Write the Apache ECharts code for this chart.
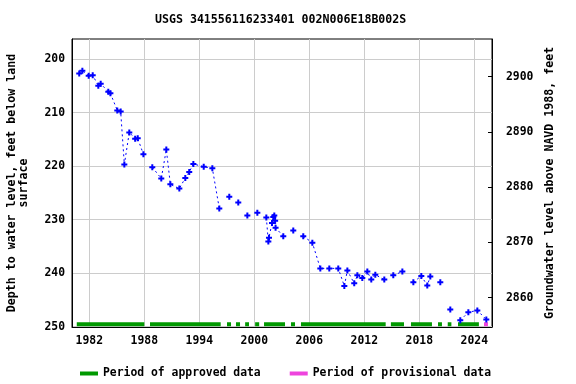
<!DOCTYPE html>
<html><head><meta charset="utf-8">
<script src="https://cdn.jsdelivr.net/npm/echarts@6/dist/echarts.min.js"></script>
<style>html,body{margin:0;padding:0;background:#fff}#c{width:576px;height:384px}</style>
</head><body><div id="c"></div>
<script>
const titleText = 'USGS 341556116233401 002N006E18B002S';
const leftName = 'Depth to water level, feet below land\nsurface';
const rightName = 'Groundwater level above NAVD 1988, feet';
// null entries mark breaks in the dotted line
const years = [1980.90,1981.24,1981.93,1982.37,1982.98,1983.24,1984.07,1984.30,1985.05,1985.42,1985.82,1986.36,1987.00,1987.28,1987.90,null,
  1988.87,1989.85,1990.40,1990.84,1991.82,1992.47,1992.90,1993.35,1994.48,1995.42,1996.18,null,
  1997.27,null,1998.25,null,1999.24,null,2000.33,null,
  2001.31,2001.53,2001.60,2001.93,2002.07,2002.18,2002.27,2002.32,2003.16,null,
  2004.25,null,
  2005.34,2006.33,2007.20,2008.18,2009.16,2009.82,2010.15,2010.90,2011.24,2011.78,2012.33,2012.76,2013.20,2014.18,null,
  2015.16,2016.15,null,
  2017.35,2018.22,2018.87,2019.20,null,
  2020.29,null,2021.38,null,
  2022.47,2023.35,2024.33,2025.31];
const depths = [202.7,202.2,203.1,203.0,205.0,204.6,206.1,206.4,209.6,209.8,219.7,213.7,214.9,214.8,217.8,null,
  220.2,222.3,216.9,223.4,224.2,222.2,221.1,219.6,220.1,220.4,227.9,null,
  225.7,null,226.8,null,229.2,null,228.7,null,
  229.6,234.1,233.4,230.6,229.5,229.2,230.2,231.5,233.1,null,
  232.0,null,
  233.1,234.3,239.1,239.1,239.1,242.4,239.5,241.9,240.4,240.9,239.7,241.2,240.3,241.2,null,
  240.4,239.7,null,
  241.7,240.5,242.3,240.6,null,
  241.7,null,246.8,null,
  248.8,247.3,246.95,248.65];
const xTicks = [1982,1988,1994,2000,2006,2012,2018,2024];
const depthTicks = [200,210,220,230,240,250];
const elevTicks = [2860,2870,2880,2890,2900];
const approvedStart = [1980.63,1988.62,1997.02,1998.00,1999.00,2000.09,2001.06,2004.00,2005.09,2014.90,2017.09,2020.04,2021.10,2022.22];
const approvedEnd   = [1988.00,1996.33,1997.46,1998.44,1999.42,2000.53,2003.35,2004.44,2014.33,2016.33,2019.38,2020.47,2021.50,2024.50];
const provisionalStart = [2025.06];
const provisionalEnd   = [2025.49];

const FONT = 'DejaVu Sans Mono';
const BAR_LEVEL = 249.53;
function periodData(s, e) {
  const out = [];
  for (let i = 0; i < s.length; i++) { out.push([s[i], BAR_LEVEL], [e[i], BAR_LEVEL], [null, null]); }
  return out;
}
const plain = v => String(Math.round(v));
const pts = years.map((y, i) => [y, depths[i]]);
const plusPath = 'path://M2,0H4V6H2ZM0,2H6V4H0Z';
const chart = echarts.init(document.getElementById('c'), null, {renderer: 'canvas'});
chart.setOption({
  animation: false,
  backgroundColor: '#ffffff',
  title: { text: titleText, left: 150, top: 9,
    textStyle: { fontFamily: FONT, fontWeight: 'bold', fontSize: 11.6, color: '#000' } },
  grid: { left: 72, right: 84, top: 39, bottom: 57, containLabel: false, outerBoundsMode: 'none',
    show: true, borderColor: '#000', borderWidth: 1, backgroundColor: 'transparent' },
  legend: { left: 75, top: 363, itemWidth: 18, itemHeight: 4, itemGap: 29, icon: 'rect',
    data: ['Period of approved data', 'Period of provisional data'],
    textStyle: { fontFamily: FONT, fontWeight: 'bold', fontSize: 11.4, color: '#000', padding: [0,0,0,0] } },
  xAxis: { type: 'value', min: 1980.11, max: 2025.93,
    axisLine: { show: true, lineStyle: { color: '#000' } },
    axisTick: { show: false, customValues: xTicks },
    axisLabel: { customValues: xTicks, formatter: plain, margin: 9, color: '#000', fontFamily: FONT, fontWeight: 'bold', fontSize: 11.4 },
    splitLine: { show: true, lineStyle: { color: '#cccccc', width: 1 } } },
  yAxis: [
    { type: 'value', inverse: true, min: 196.25, max: 250.05, position: 'left',
      name: leftName, nameLocation: 'middle', nameGap: 42,
      nameTextStyle: { fontFamily: FONT, fontWeight: 'bold', fontSize: 11.6, color: '#000', lineHeight: 12 },
      axisLine: { show: true, lineStyle: { color: '#000' } },
      axisTick: { show: false, customValues: depthTicks },
      axisLabel: { customValues: depthTicks, formatter: plain, margin: 7, color: '#000', fontFamily: FONT, fontWeight: 'bold', fontSize: 11.4 },
      splitLine: { show: true, lineStyle: { color: '#cccccc', width: 1 } } },
    { type: 'value', min: 2854.70, max: 2906.82, position: 'right',
      name: rightName, nameLocation: 'middle', nameGap: 42,
      nameTextStyle: { fontFamily: FONT, fontWeight: 'bold', fontSize: 11.6, color: '#000' },
      axisLine: { show: true, lineStyle: { color: '#000' } },
      axisTick: { show: true, inside: true, length: 4, customValues: elevTicks, lineStyle: { color: '#000' } },
      axisLabel: { customValues: elevTicks, formatter: plain, margin: 14, color: '#000', fontFamily: FONT, fontWeight: 'bold', fontSize: 11.4 },
      splitLine: { show: false } }
  ],
  series: [
    { name: 'Period of approved data', type: 'line', yAxisIndex: 0, data: periodData(approvedStart, approvedEnd),
      symbol: 'none', connectNulls: false, silent: true,
      lineStyle: { color: '#009900', width: 4, cap: 'butt' }, itemStyle: { color: '#009900' } },
    { name: 'Period of provisional data', type: 'line', yAxisIndex: 0, data: periodData(provisionalStart, provisionalEnd),
      symbol: 'none', connectNulls: false, silent: true,
      lineStyle: { color: '#ee44dd', width: 4, cap: 'butt' }, itemStyle: { color: '#ee44dd' } },
    { name: 'levels', type: 'line', yAxisIndex: 0, data: pts, connectNulls: false,
      symbol: plusPath, symbolSize: 6, showAllSymbol: true,
      lineStyle: { color: '#0000ff', width: 1, type: [2, 3] }, itemStyle: { color: '#0000ff' } }
  ]
});
</script></body></html>
